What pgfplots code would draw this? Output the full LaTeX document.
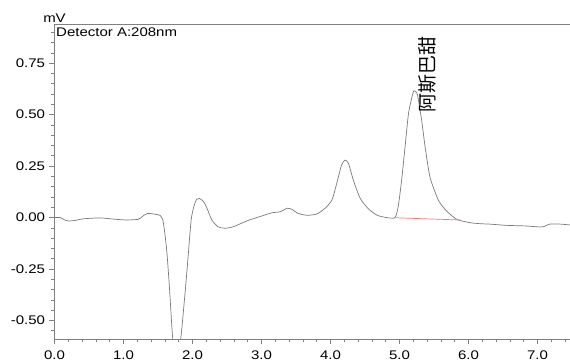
\documentclass[border=0pt]{standalone}
\usepackage{fontspec}
\setmainfont{Liberation Sans}[FakeStretch=1.2]
\newfontfamily\cjk{Noto Sans CJK SC}
\usepackage{pgfplots}
\pgfplotsset{compat=1.18}
\definecolor{trace}{HTML}{7A7A7A}
\definecolor{axgray}{HTML}{808080}
\definecolor{basered}{HTML}{FF7070}
\begin{document}
\begin{tikzpicture}
\begin{axis}[
  name=ax,
  at={(0bp,0bp)}, anchor=south west,
  scale only axis, width=515.5bp, height=315bp,
  xmin=0, xmax=7.47, ymin=-0.59, ymax=0.94,
  axis x line*=bottom, axis y line*=left,
  axis line style={axgray, line width=0.8bp},
  tick align=outside,
  xtick={0,1,2,3,4,5,6,7},
  xticklabels={0.0,1.0,2.0,3.0,4.0,5.0,6.0,7.0},
  minor xtick={0.2,0.4,0.6,0.8,1.2,1.4,1.6,1.8,2.2,2.4,2.6,2.8,3.2,3.4,3.6,3.8,4.2,4.4,4.6,4.8,5.2,5.4,5.6,5.8,6.2,6.4,6.6,6.8,7.2,7.4},
  ytick={-0.5,-0.25,0,0.25,0.5,0.75},
  yticklabels={-0.50,-0.25,0.00,0.25,0.50,0.75},
  minor ytick={-0.55,-0.45,-0.4,-0.35,-0.3,-0.2,-0.15,-0.1,-0.05,0.05,0.1,0.15,0.2,0.3,0.35,0.4,0.45,0.55,0.6,0.65,0.7,0.8,0.85,0.9},
  major tick length=5bp, minor tick length=3bp,
  every tick/.style={axgray, line width=0.6bp},
  every minor tick/.style={axgray, line width=0.6bp},
  every tick label/.append style={font=\fontsize{12.5bp}{14bp}\selectfont, text=black},
  xticklabel style={inner sep=0pt, yshift=-7bp},
  yticklabel style={xshift=-1bp},
  clip=true,
]
\addplot[trace, line width=0.7bp, smooth, tension=0.4] coordinates {
(0.00,0.000) (0.08,0.000) (0.15,-0.012) (0.20,-0.017) (0.30,-0.014) (0.42,-0.006)
(0.66,-0.002) (0.90,-0.009) (1.05,-0.012) (1.21,-0.009) (1.24,-0.004) (1.30,0.012)
(1.35,0.020) (1.46,0.016) (1.53,0.010) (1.57,-0.012) (1.60,-0.08) (1.63,-0.174)
(1.665,-0.336) (1.713,-0.588) (1.77,-0.72) (1.83,-0.588) (1.90,-0.336) (1.94,-0.174)
(1.98,-0.012) (2.02,0.055) (2.06,0.088) (2.10,0.093) (2.16,0.077) (2.21,0.045)
(2.28,-0.012) (2.37,-0.045) (2.47,-0.052) (2.59,-0.045) (2.79,-0.016) (2.98,0.005)
(3.15,0.023) (3.27,0.028) (3.37,0.045) (3.44,0.040) (3.53,0.020) (3.66,0.011)
(3.80,0.017) (3.92,0.045) (4.02,0.085) (4.09,0.166) (4.16,0.255) (4.21,0.279)
(4.26,0.263) (4.33,0.182) (4.43,0.093) (4.55,0.042) (4.67,0.012) (4.79,0.001)
(4.93,-0.001) (4.98,0.052) (5.03,0.182) (5.08,0.344) (5.13,0.506) (5.18,0.586)
(5.21,0.616) (5.26,0.595) (5.32,0.473) (5.37,0.344) (5.44,0.198) (5.54,0.101)
(5.59,0.069) (5.68,0.032) (5.83,-0.009) (6.02,-0.025) (6.17,-0.030) (6.31,-0.032)
(6.55,-0.038) (6.84,-0.041) (6.99,-0.045) (7.08,-0.045) (7.18,-0.032) (7.33,-0.032)
(7.47,-0.036)
};
\addplot[basered, line width=0.7bp] coordinates {(4.93,-0.001) (5.88,-0.012)};
\node[rotate=90, anchor=west, inner sep=0pt, font=\cjk\fontsize{19bp}{20bp}\selectfont] at (axis cs:5.41,0.51) {阿斯巴甜};
\end{axis}
\draw[axgray, line width=0.8bp] (ax.north west) -- (ax.north east);
\node[anchor=north west, inner sep=0pt, font=\fontsize{12.5bp}{14bp}\selectfont] at ([xshift=1.5bp,yshift=-4bp]ax.north west) {Detector A:208nm};
\node[anchor=base, inner sep=0pt, font=\fontsize{12.5bp}{14bp}\selectfont] at ([yshift=2bp]ax.north west) {mV};
\pgfresetboundingbox
\path (-54.5bp,-24bp) rectangle (515.5bp,339bp);
\end{tikzpicture}
\end{document}
